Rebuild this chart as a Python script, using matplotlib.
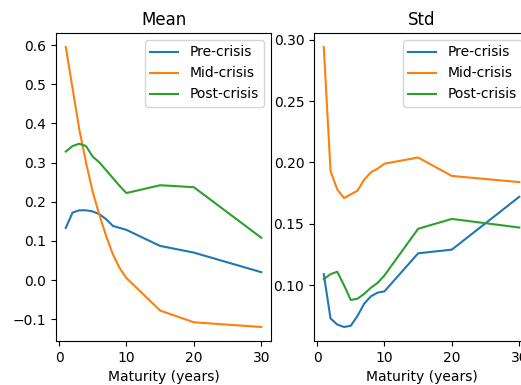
import matplotlib
matplotlib.use("Agg")
import matplotlib.pyplot as plt

# maturities (years)
maturity = [1, 2, 3, 4, 5, 6, 7, 8, 9, 10, 15, 20, 30]

# mean of each period
mean_pre = [0.133, 0.172, 0.178, 0.178, 0.175, 0.168, 0.155, 0.138, 0.133, 0.128, 0.087, 0.070, 0.020]
mean_mid = [0.595, 0.49, 0.385, 0.30, 0.225, 0.165, 0.112, 0.065, 0.03, 0.005, -0.078, -0.108, -0.12]
mean_post = [0.328, 0.342, 0.348, 0.342, 0.315, 0.30, 0.28, 0.26, 0.24, 0.222, 0.242, 0.237, 0.108]

# std of each period
std_pre = [0.109, 0.073, 0.068, 0.066, 0.067, 0.075, 0.085, 0.091, 0.094, 0.095, 0.126, 0.129, 0.172]
std_mid = [0.294, 0.193, 0.178, 0.171, 0.174, 0.177, 0.186, 0.192, 0.195, 0.199, 0.204, 0.189, 0.184]
std_post = [0.105, 0.109, 0.111, 0.100, 0.088, 0.089, 0.093, 0.098, 0.102, 0.108, 0.146, 0.154, 0.147]

labels = ["Pre-crisis", "Mid-crisis", "Post-crisis"]

fig = plt.figure(figsize=(5.21, 3.85), dpi=100)
# right panel runs past the edge of the picture, as in the original
ax1 = fig.add_axes([0.1075, 0.1143, 0.4127, 0.80])
ax2 = fig.add_axes([0.6027, 0.1143, 0.4127, 0.80])

for ax, series, title in [(ax1, [mean_pre, mean_mid, mean_post], "Mean"),
                          (ax2, [std_pre, std_mid, std_post], "Std")]:
    for vals, lab in zip(series, labels):
        ax.plot(maturity, vals, label=lab)
    ax.set_title(title)
    ax.set_xlabel("Maturity (years)")
    ax.legend(loc="upper right")

ax1.set_yticks([-0.1, 0.0, 0.1, 0.2, 0.3, 0.4, 0.5, 0.6])
ax2.set_yticks([0.10, 0.15, 0.20, 0.25, 0.30])

fig.savefig("out.png", dpi=100)
